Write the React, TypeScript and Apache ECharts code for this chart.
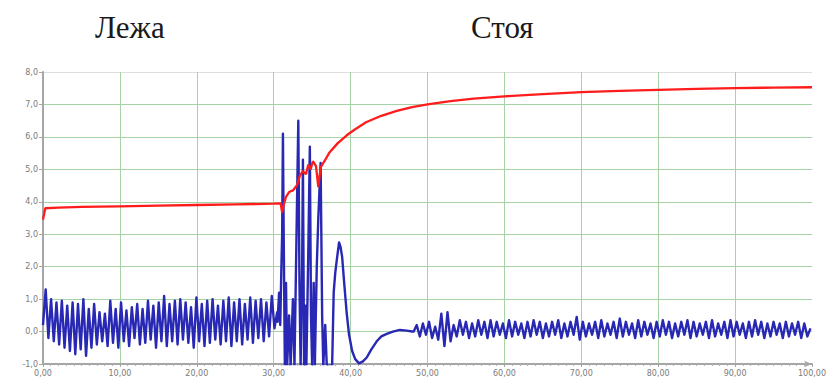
import React, { useEffect, useRef } from "react";
import * as echarts from "echarts";

const titleLeft = "Лежа";
const titleRight = "Стоя";

// blue signal, lying part: sample start 0, sample step 0.35
const blueRestStart = 0;
const blueRestStep = 0.35;
const blueRest = [
  0.2, 1.3, -0.2, 1.0, -0.3, 0.9, -0.4, 0.95, -0.5, 0.8,
  -0.6, 0.9, -0.7, 0.85, -0.55, 1.0, -0.75, 0.7, -0.5, 0.85,
  -0.4, 0.6, -0.3, 0.55, -0.45, 0.95, -0.35, 0.7, -0.5, 0.9,
  -0.3, 0.65, -0.45, 0.75, -0.2, 0.85, -0.4, 0.7, -0.35, 0.95,
  -0.25, 0.8, -0.5, 0.9, -0.3, 1.1, -0.45, 0.85, -0.3, 0.95,
  -0.4, 1.0, -0.25, 0.9, -0.35, 0.75, -0.5, 1.05, -0.3, 0.85,
  -0.45, 0.95, -0.35, 1.0, -0.25, 0.8, -0.4, 0.95, -0.3, 1.05,
  -0.45, 0.9, -0.3, 1.0, -0.4, 0.85, -0.25, 1.05, -0.35, 0.95,
  -0.2, 1.0, -0.3, 0.9, -0.15, 1.1, 0.1, 0.6,
];

// blue signal, transition (x, y)
const blueTransition: [number, number][] = [
  [30.5, 0.3], [30.7, 1.2], [30.85, 0.2], [31.0, 2.0], [31.1, 3.0], [31.2, 6.1],
  [31.3, 3.0], [31.45, -1.05], [31.6, 1.5], [31.75, -1.05], [32.0, 0.5], [32.2, -1.05],
  [32.5, 1.0], [32.7, -1.05], [33.0, 3.5], [33.2, 6.5], [33.35, 1.5], [33.5, -1.05],
  [33.7, 2.0], [33.8, 5.3], [33.95, -1.05], [34.1, 0.8], [34.25, -1.05], [34.5, 2.5],
  [34.7, 5.7], [34.85, 0.5], [35.0, -1.05], [35.2, 1.5], [35.35, -1.05], [35.6, 2.0],
  [35.8, 3.5], [36.1, 5.2], [36.3, 0.5], [36.45, -1.05], [36.7, 0.2], [36.9, -1.05],
  [37.6, -1.05], [37.8, 1.2], [38.0, 1.8], [38.2, 2.2], [38.5, 2.75], [38.7, 2.6],
  [38.9, 2.3], [39.2, 1.4], [39.5, 0.55], [39.8, -0.1], [40.2, -0.6], [40.6, -0.85],
  [41.1, -0.98], [41.6, -0.92], [42.1, -0.8], [42.7, -0.55], [43.4, -0.3], [44.0, -0.15],
  [44.7, -0.07], [45.5, 0.0], [46.4, 0.05], [47.3, 0.03], [48.0, 0.0],
];

// blue signal, standing part: sample start 48.2, sample step 0.4
const blueStandStart = 48.2;
const blueStandStep = 0.4;
const blueStand = [
  0.0, 0.2, -0.15, 0.25, -0.1, 0.3, -0.2, 0.15, -0.25, 0.55,
  -0.45, 0.6, -0.3, 0.2, -0.15, 0.35, -0.1, 0.3, -0.2, 0.25,
  -0.15, 0.35, -0.1, 0.3, -0.2, 0.35, -0.15, 0.3, -0.1, 0.25,
  -0.2, 0.35, -0.15, 0.3, -0.1, 0.25, -0.2, 0.3, -0.15, 0.35,
  -0.1, 0.3, -0.2, 0.25, -0.15, 0.3, -0.1, 0.35, -0.2, 0.25,
  -0.15, 0.3, -0.1, 0.45, -0.25, 0.3, -0.15, 0.25, -0.1, 0.3,
  -0.2, 0.35, -0.15, 0.25, -0.1, 0.3, -0.2, 0.4, -0.15, 0.3,
  -0.1, 0.25, -0.2, 0.35, -0.15, 0.3, -0.1, 0.25, -0.2, 0.3,
  -0.15, 0.35, -0.1, 0.3, -0.2, 0.25, -0.15, 0.3, -0.1, 0.35,
  -0.2, 0.3, -0.15, 0.25, -0.1, 0.3, -0.2, 0.35, -0.15, 0.25,
  -0.1, 0.3, -0.2, 0.35, -0.15, 0.3, -0.1, 0.25, -0.2, 0.3,
  -0.15, 0.35, -0.1, 0.3, -0.2, 0.25, -0.15, 0.3, -0.1, 0.25,
  -0.2, 0.3, -0.15, 0.25, -0.1, 0.3, -0.2, 0.25, -0.15, 0.1,
];

// red signal (x, y)
const redSeries: [number, number][] = [
  [0, 3.45], [0.3, 3.8], [2, 3.82], [5, 3.84], [10, 3.86], [15, 3.88], [20, 3.9],
  [25, 3.92], [30, 3.94], [30.9, 3.95], [31.1, 3.67], [31.3, 3.9], [31.6, 4.15],
  [32.0, 4.3], [32.5, 4.35], [33.0, 4.5], [33.4, 4.8], [33.8, 4.95], [34.2, 4.85],
  [34.5, 5.15], [34.8, 5.0], [35.1, 5.25], [35.5, 5.1], [35.8, 4.45], [36.1, 5.06],
  [36.6, 5.25], [37.2, 5.5], [38.3, 5.8], [39.5, 6.05], [40.5, 6.22], [42, 6.45],
  [44, 6.65], [46, 6.8], [48, 6.92], [50, 7.0], [53, 7.1], [56, 7.18], [60, 7.25],
  [65, 7.32], [70, 7.38], [75, 7.42], [80, 7.45], [85, 7.48], [90, 7.5], [95, 7.52],
  [100, 7.53],
];

const xMin = 0;
const xMax = 100;
const xStep = 10;
const yMin = -1;
const yMax = 8;
const yStep = 1;

export default function App() {
  const ref = useRef<HTMLDivElement>(null);
  useEffect(() => {
    if (!ref.current) return;
    const chart = echarts.init(ref.current, undefined, { renderer: "svg" });
    const blue: [number, number][] = [];
    blueRest.forEach((v, i) => blue.push([blueRestStart + i * blueRestStep, v]));
    blueTransition.forEach((p) => blue.push(p));
    blueStand.forEach((v, i) => blue.push([blueStandStart + i * blueStandStep, v]));

    const green = "#a6d3a6";
    chart.setOption({
      animation: false,
      backgroundColor: "#ffffff",
      grid: { left: 43, right: 11, top: 72, bottom: 19 },
      graphic: [
        {
          type: "text",
          left: 95,
          top: 12,
          style: { text: titleLeft, font: "31px 'Liberation Serif'", fill: "#1a1a1a" },
        },
        {
          type: "text",
          left: 471,
          top: 12,
          style: { text: titleRight, font: "31px 'Liberation Serif'", fill: "#1a1a1a" },
        },
      ],
      xAxis: {
        type: "value",
        min: xMin,
        max: xMax,
        interval: xStep,
        axisLine: {
          show: true,
          onZero: false,
          symbol: ["none", "arrow"],
          symbolSize: [5, 8],
          lineStyle: { color: "#a6a6a6", width: 2 },
        },
        axisTick: { show: true, length: 3, lineStyle: { color: "#a6a6a6" } },
        minorTick: { show: true, splitNumber: 10, length: 2, lineStyle: { color: "#b0b0b0" } },
        splitLine: { show: true, showMinLine: false, showMaxLine: false, lineStyle: { color: green, width: 1 } },
        axisLabel: {
          fontSize: 8,
          color: "#7a7a7a",
          margin: 5,
          fontFamily: "DejaVu Sans",
          formatter: (v: number) => v.toFixed(2).replace(".", ","),
        },
      },
      yAxis: {
        type: "value",
        min: yMin,
        max: yMax,
        interval: yStep,
        axisLine: { show: true, onZero: false, lineStyle: { color: "#a6a6a6", width: 2 } },
        axisTick: { show: true, length: 4, lineStyle: { color: "#a6a6a6" } },
        splitLine: {
          show: true,
          lineStyle: {
            color: [green, green, green, green, green, green, green, green, green, "#dedede"],
            width: 1,
          },
        },
        axisLabel: {
          fontSize: 8,
          color: "#7a7a7a",
          margin: 5,
          fontFamily: "DejaVu Sans",
          formatter: (v: number) => v.toFixed(1).replace(".", ","),
        },
      },
      series: [
        {
          type: "line",
          data: blue,
          showSymbol: false,
          symbol: "none",
          clip: true,
          lineStyle: { color: "#2828b4", width: 2.4, join: "round" },
          z: 2,
        },
        {
          type: "line",
          data: redSeries,
          showSymbol: false,
          symbol: "none",
          clip: true,
          lineStyle: { color: "#ff1c1c", width: 2.3 },
          z: 3,
        },
      ],
    });
    return () => chart.dispose();
  }, []);
  return (
    <div
      ref={ref}
      style={{ position: "fixed", left: 0, top: 0, width: 829, height: 383, background: "#fff" }}
    />
  );
}
